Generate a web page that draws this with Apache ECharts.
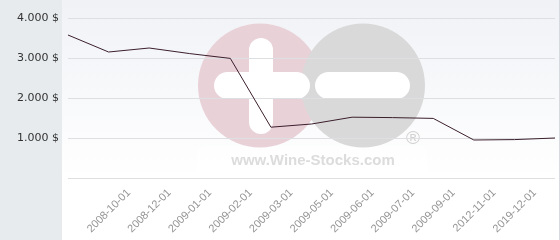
<!DOCTYPE html>
<html>
<head>
<meta charset="utf-8">
<script src="https://cdn.jsdelivr.net/npm/echarts@6/dist/echarts.min.js"></script>
<style>
html,body{margin:0;padding:0;background:#fff;}
#chart{width:560px;height:240px;}
</style>
</head>
<body>
<div id="chart"></div>
<script>
// data points (13 observations) and the 11 date tick labels shown under the axis
const pointIds = ['p1','p2','p3','p4','p5','p6','p7','p8','p9','p10','p11','p12','p13'];
const prices = [3575, 3150, 3250, 3110, 2990, 1270, 1350, 1520, 1510, 1490, 950, 960, 1000];
const tickLabels = ['', '2008-10-01', '2008-12-01', '2009-01-01', '2009-02-01', '2009-03-01',
  '2009-05-01', '2009-06-01', '2009-07-01', '2009-09-01', '2012-11-01', '2019-12-01'];
const yTicks = [0, 1000, 2000, 3000, 4000];

const chart = echarts.init(document.getElementById('chart'), null, {renderer: 'canvas'});

function fmt(v) {
  if (v === 0) return '';
  return String(v).replace(/\B(?=(\d{3})+(?!\d))/g, '.') + ' $';
}

chart.setOption({
  animation: false,
  backgroundColor: '#ffffff',
  grid: {left: 68, right: 5, top: 18, bottom: 62},
  graphic: [
    {type: 'rect', z: -100, silent: true, shape: {x: 0, y: 0, width: 62, height: 240}, style: {fill: '#e7ebee'}},
    {type: 'rect', z: -100, silent: true, shape: {x: 62, y: 0, width: 497, height: 240},
      style: {fill: new echarts.graphic.LinearGradient(0, 0, 0, 1, [
        {offset: 0, color: '#f0f2f6'}, {offset: 0.75, color: '#ffffff'}, {offset: 1, color: '#ffffff'}])}},
    {type: 'rect', z: -100, silent: true, shape: {x: 559, y: 0, width: 1, height: 240}, style: {fill: '#d6dadf'}},
    // watermark
    {type: 'rect', z: -90, silent: true, shape: {x: 197, y: 146, width: 230, height: 32, r: 6}, style: {fill: 'rgba(255,255,255,0.55)'}},
    {type: 'circle', z: -80, silent: true, shape: {cx: 260, cy: 85.5, r: 62}, style: {fill: '#e9d1d8'}},
    {type: 'circle', z: -79, silent: true, shape: {cx: 363, cy: 85.5, r: 62}, style: {fill: '#d9d9d9'}},
    {type: 'rect', z: -78, silent: true, shape: {x: 214, y: 72, width: 96, height: 27, r: 13.5}, style: {fill: '#ffffff'}},
    {type: 'rect', z: -78, silent: true, shape: {x: 249, y: 38, width: 24, height: 96, r: 12}, style: {fill: '#ffffff'}},
    {type: 'rect', z: -78, silent: true, shape: {x: 315, y: 72, width: 95, height: 27, r: 13.5}, style: {fill: '#ffffff'}},
    {type: 'text', z: -77, silent: true, style: {x: 313, y: 161, text: 'www.Wine-Stocks.com', fill: '#dcdcdc',
      font: 'bold 15px "Liberation Sans", Arial, sans-serif', align: 'center', verticalAlign: 'middle'}},
    {type: 'text', z: -77, silent: true, style: {x: 413, y: 139, text: '®', fill: '#d2d2d2',
      font: '19px "Liberation Sans", Arial, sans-serif', align: 'center', verticalAlign: 'middle'}}
  ],
  xAxis: [
    {
      type: 'category', data: pointIds, boundaryGap: false,
      axisLine: {show: false}, axisTick: {show: false}, axisLabel: {show: false}, splitLine: {show: false}
    },
    {
      type: 'category', data: tickLabels, boundaryGap: true, position: 'bottom',
      axisLine: {show: false}, axisTick: {show: false}, splitLine: {show: false},
      axisLabel: {rotate: 45, margin: 13, interval: 0, color: '#959595',
        fontFamily: '"Liberation Sans", Arial, sans-serif', fontSize: 11}
    }
  ],
  yAxis: {
    type: 'value', min: yTicks[0], max: yTicks[yTicks.length - 1], interval: yTicks[1] - yTicks[0],
    axisLine: {show: false}, axisTick: {show: false},
    splitLine: {lineStyle: {color: '#dddfe3', width: 1}},
    axisLabel: {formatter: fmt, margin: 9, color: '#333333',
      fontFamily: '"DejaVu Sans", Verdana, sans-serif', fontSize: 11}
  },
  series: [{
    type: 'line', xAxisIndex: 0, data: prices, showSymbol: false, symbol: 'none',
    lineStyle: {color: '#3b1f2c', width: 1}, z: 5
  }]
});
</script>
</body>
</html>
